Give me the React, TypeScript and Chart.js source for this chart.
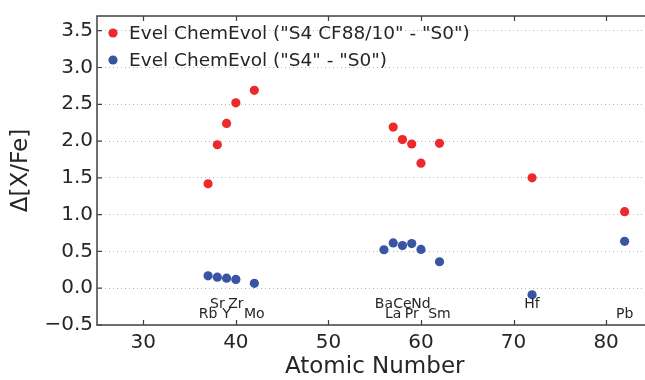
import React, { useEffect, useRef } from "react";
import { Chart, registerables } from "chart.js";

Chart.register(...registerables);

const ATOMIC_NUMBERS = [37, 38, 39, 40, 42, 56, 57, 58, 59, 60, 62, 72, 82];
const ELEMENTS = ["Rb", "Sr", "Y", "Zr", "Mo", "Ba", "La", "Ce", "Pr", "Nd", "Sm", "Hf", "Pb"];
const LABEL_ROW = [1, 0, 1, 0, 1, 0, 1, 0, 1, 0, 1, 0, 1];
const LABEL_ROW_Y = [-0.213, -0.362];
const SERIES_RED = [1.42, 1.95, 2.24, 2.52, 2.69, null, 2.19, 2.02, 1.96, 1.70, 1.97, 1.50, 1.04];
const SERIES_BLUE = [0.168, 0.15, 0.137, 0.12, 0.066, 0.523, 0.616, 0.58, 0.607, 0.527, 0.36, -0.089, 0.638];
const SERIES_NAMES = ['Evel ChemEvol ("S4 CF88/10" - "S0")', 'Evel ChemEvol ("S4" - "S0")'];
const X_TICKS = [30, 40, 50, 60, 70, 80];
const Y_TICKS = [-0.5, 0, 0.5, 1, 1.5, 2, 2.5, 3, 3.5];

const RED = "#ec2a2c";
const BLUE = "#3a54a4";
const FONT = "'DejaVu Sans', sans-serif";
const TEXT = "#262626";
const SPINE = "#404040";
const CANVAS_W = 657;

export default function App() {
  const ref = useRef<HTMLCanvasElement>(null);
  useEffect(() => {
    const canvas = ref.current!;
    const toPts = (arr: (number | null)[]) =>
      ATOMIC_NUMBERS.map((x, i) => ({ x, y: arr[i] })).filter((p) => p.y !== null);

    const decor = {
      id: "decor",
      afterDraw(chart: any) {
        const { ctx, chartArea: a, scales } = chart;
        const xs = scales.x;
        const ys = scales.y;
        ctx.save();
        // spines
        ctx.strokeStyle = SPINE;
        ctx.lineWidth = 1.5;
        ctx.strokeRect(a.left, a.top, a.right - a.left, a.bottom - a.top);
        // inward ticks
        ctx.lineWidth = 1.2;
        ctx.beginPath();
        X_TICKS.forEach((v) => {
          const px = Math.round(xs.getPixelForValue(v)) + 0.5;
          ctx.moveTo(px, a.bottom);
          ctx.lineTo(px, a.bottom - 5);
          ctx.moveTo(px, a.top);
          ctx.lineTo(px, a.top + 5);
        });
        Y_TICKS.forEach((v) => {
          const py = ys.getPixelForValue(v);
          ctx.moveTo(a.left, py);
          ctx.lineTo(a.left + 5, py);
        });
        ctx.stroke();

        // element labels
        ctx.fillStyle = TEXT;
        ctx.font = `14px ${FONT}`;
        ctx.textAlign = "center";
        ctx.textBaseline = "middle";
        ELEMENTS.forEach((el, i) => {
          const px = xs.getPixelForValue(ATOMIC_NUMBERS[i]);
          const py = ys.getPixelForValue(LABEL_ROW_Y[LABEL_ROW[i]]);
          ctx.fillText(el, px, py);
        });

        // legend
        const colors = [RED, BLUE];
        const rows = [33, 60];
        ctx.font = `18.5px ${FONT}`;
        ctx.textAlign = "left";
        SERIES_NAMES.forEach((name, i) => {
          ctx.fillStyle = colors[i];
          ctx.beginPath();
          ctx.arc(113, rows[i], 4.6, 0, Math.PI * 2);
          ctx.fill();
          ctx.fillStyle = TEXT;
          ctx.fillText(name, 129, rows[i] + 1);
        });

        // axis titles
        ctx.fillStyle = TEXT;
        ctx.font = `23px ${FONT}`;
        ctx.textAlign = "center";
        ctx.fillText("Atomic Number", (a.left + a.right) / 2, 367);
        ctx.save();
        ctx.translate(21, (a.top + a.bottom) / 2);
        ctx.rotate(-Math.PI / 2);
        ctx.fillText("Δ[X/Fe]", 0, 0);
        ctx.restore();
        ctx.restore();
      },
    };

    const chart = new Chart(canvas, {
      type: "scatter",
      data: {
        datasets: [
          {
            label: SERIES_NAMES[0],
            data: toPts(SERIES_RED) as any,
            backgroundColor: RED,
            borderColor: RED,
            pointRadius: 4.6,
            borderWidth: 0,
          },
          {
            label: SERIES_NAMES[1],
            data: toPts(SERIES_BLUE) as any,
            backgroundColor: BLUE,
            borderColor: BLUE,
            pointRadius: 4.6,
            borderWidth: 0,
          },
        ],
      },
      options: {
        animation: false,
        responsive: false,
        layout: { padding: { left: 0, top: 9, right: 0, bottom: 0 } },
        plugins: { legend: { display: false }, tooltip: { enabled: false } },
        scales: {
          x: {
            type: "linear",
            min: 25,
            max: 85,
            afterBuildTicks: (s: any) => {
              s.ticks = X_TICKS.map((v) => ({ value: v }));
            },
            afterFit: (s: any) => {
              s.height = 55;
              s.paddingRight = 0;
              s.paddingLeft = 0;
            },
            grid: { display: false, drawTicks: false },
            border: { display: false },
            ticks: {
              padding: 6,
              color: TEXT,
              font: { family: FONT, size: 20 },
              maxRotation: 0,
            },
          },
          y: {
            type: "linear",
            min: -0.5,
            max: 3.7,
            afterBuildTicks: (s: any) => {
              s.ticks = Y_TICKS.map((v) => ({ value: v }));
            },
            afterFit: (s: any) => {
              s.width = 97;
            },
            grid: { color: "#b4b4b4", lineWidth: 1, drawTicks: false },
            border: { display: false, dash: [1, 3] },
            ticks: {
              padding: 4,
              color: TEXT,
              font: { family: FONT, size: 20 },
              callback: (v: any) => {
                const n = Number(v);
                const s = n.toFixed(1);
                return n < 0 ? "\u2212" + Math.abs(n).toFixed(1) : s;
              },
            },
          },
        },
      },
      plugins: [decor],
    });
    return () => chart.destroy();
  }, []);

  return (
    <div style={{ position: "fixed", left: 0, top: 0, width: 645, height: 380, overflow: "hidden", background: "#fff" }}>
      <canvas ref={ref} width={CANVAS_W} height={380} style={{ display: "block", width: CANVAS_W, height: 380 }} />
    </div>
  );
}
